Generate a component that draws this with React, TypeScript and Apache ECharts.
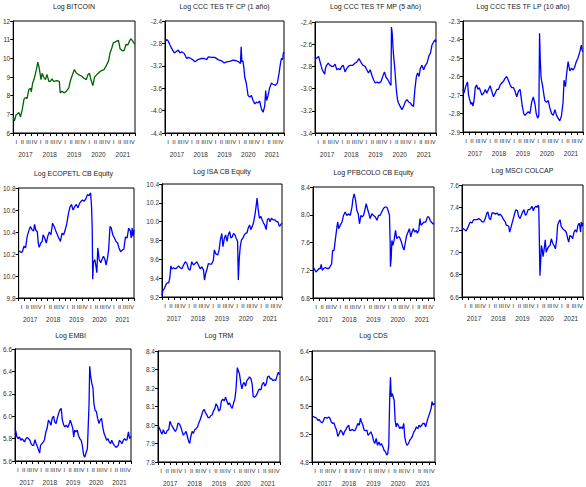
import React, { useEffect, useRef } from "react";
import * as echarts from "echarts";

const quarterLabels = ["I", "II", "III", "IV"];
const years = [2017, 2018, 2019, 2020, 2021];

const btc = [[2017.00,6.85],[2017.05,6.65],[2017.11,6.95],[2017.19,7.05],[2017.23,7.10],[2017.30,6.86],[2017.37,7.25],[2017.44,7.80],[2017.50,7.90],[2017.57,7.85],[2017.64,8.33],[2017.71,8.40],[2017.74,8.20],[2017.80,8.68],[2017.87,8.95],[2017.95,9.40],[2018.01,9.80],[2018.05,9.58],[2018.09,9.30],[2018.14,8.86],[2018.19,9.20],[2018.25,9.00],[2018.32,8.86],[2018.39,9.13],[2018.46,8.77],[2018.53,8.77],[2018.59,8.90],[2018.66,8.77],[2018.80,8.80],[2018.89,8.77],[2018.93,8.15],[2019.00,8.24],[2019.10,8.15],[2019.18,8.24],[2019.28,8.40],[2019.34,8.77],[2019.41,9.04],[2019.51,9.40],[2019.59,9.22],[2019.68,9.13],[2019.82,9.04],[2019.89,8.95],[2020.00,8.86],[2020.07,9.13],[2020.13,9.20],[2020.19,8.86],[2020.27,8.54],[2020.34,9.00],[2020.43,9.13],[2020.57,9.30],[2020.64,9.35],[2020.73,9.40],[2020.81,9.58],[2020.91,9.85],[2020.98,10.30],[2021.05,10.57],[2021.11,10.83],[2021.18,10.87],[2021.25,10.92],[2021.32,10.96],[2021.39,10.50],[2021.50,10.40],[2021.56,10.44],[2021.63,10.75],[2021.70,10.70],[2021.77,10.92],[2021.84,11.05],[2021.90,10.93],[2021.99,10.75]];

const tesCp = [[2017.00,-2.78],[2017.07,-2.73],[2017.14,-2.76],[2017.21,-2.83],[2017.28,-2.89],[2017.39,-2.97],[2017.49,-2.94],[2017.56,-2.92],[2017.63,-2.97],[2017.70,-2.95],[2017.81,-2.98],[2017.91,-3.07],[2017.98,-3.05],[2018.09,-3.07],[2018.19,-3.10],[2018.26,-3.13],[2018.37,-3.09],[2018.51,-3.07],[2018.65,-3.07],[2018.75,-3.09],[2018.82,-3.04],[2018.96,-3.05],[2019.09,-3.05],[2019.23,-3.09],[2019.37,-3.11],[2019.49,-3.15],[2019.58,-3.13],[2019.72,-3.12],[2019.86,-3.10],[2020.00,-3.11],[2020.10,-3.13],[2020.17,-3.16],[2020.20,-2.86],[2020.23,-3.13],[2020.27,-3.11],[2020.31,-3.22],[2020.35,-3.40],[2020.42,-3.52],[2020.49,-3.73],[2020.56,-3.76],[2020.63,-3.73],[2020.70,-3.82],[2020.77,-3.88],[2020.84,-3.85],[2020.91,-3.86],[2020.98,-3.83],[2021.05,-3.97],[2021.12,-4.03],[2021.19,-3.92],[2021.23,-3.64],[2021.27,-3.82],[2021.33,-3.73],[2021.40,-3.59],[2021.47,-3.51],[2021.54,-3.53],[2021.64,-3.55],[2021.72,-3.51],[2021.79,-3.34],[2021.85,-3.16],[2021.89,-3.07],[2021.94,-3.09],[2021.97,-2.98],[2022.00,-2.95]];

const tesMp = [[2017.00,-2.74],[2017.04,-2.73],[2017.10,-2.72],[2017.15,-2.71],[2017.21,-2.76],[2017.26,-2.80],[2017.30,-2.83],[2017.35,-2.85],[2017.40,-2.87],[2017.43,-2.82],[2017.48,-2.79],[2017.55,-2.77],[2017.62,-2.79],[2017.69,-2.80],[2017.76,-2.80],[2017.83,-2.78],[2017.90,-2.83],[2017.97,-2.82],[2018.04,-2.83],[2018.10,-2.80],[2018.17,-2.79],[2018.24,-2.85],[2018.31,-2.82],[2018.38,-2.80],[2018.45,-2.79],[2018.56,-2.79],[2018.66,-2.77],[2018.73,-2.76],[2018.82,-2.73],[2018.89,-2.76],[2018.98,-2.79],[2019.07,-2.80],[2019.14,-2.83],[2019.21,-2.86],[2019.28,-2.83],[2019.35,-2.88],[2019.42,-2.92],[2019.49,-2.95],[2019.56,-2.94],[2019.62,-2.95],[2019.72,-2.94],[2019.80,-2.89],[2019.87,-2.85],[2019.94,-2.90],[2020.01,-2.92],[2020.08,-2.95],[2020.14,-2.97],[2020.16,-2.445],[2020.19,-2.50],[2020.22,-2.62],[2020.25,-2.71],[2020.29,-2.80],[2020.33,-2.92],[2020.37,-3.03],[2020.41,-3.10],[2020.45,-3.13],[2020.52,-3.16],[2020.59,-3.19],[2020.66,-3.16],[2020.73,-3.12],[2020.80,-3.10],[2020.87,-3.12],[2020.94,-3.13],[2021.01,-3.15],[2021.07,-3.16],[2021.13,-3.00],[2021.19,-2.89],[2021.24,-2.86],[2021.30,-2.89],[2021.35,-2.82],[2021.42,-2.79],[2021.49,-2.83],[2021.56,-2.79],[2021.63,-2.77],[2021.70,-2.71],[2021.77,-2.68],[2021.83,-2.61],[2021.90,-2.58],[2021.97,-2.56],[2022.00,-2.58]];

const tesLp = [[2017.00,-2.67],[2017.04,-2.69],[2017.10,-2.66],[2017.15,-2.64],[2017.19,-2.63],[2017.23,-2.70],[2017.29,-2.73],[2017.33,-2.75],[2017.37,-2.74],[2017.41,-2.76],[2017.46,-2.73],[2017.51,-2.66],[2017.57,-2.645],[2017.62,-2.67],[2017.68,-2.66],[2017.73,-2.68],[2017.79,-2.70],[2017.86,-2.69],[2017.93,-2.67],[2017.99,-2.69],[2018.06,-2.67],[2018.13,-2.65],[2018.20,-2.68],[2018.27,-2.71],[2018.34,-2.69],[2018.41,-2.67],[2018.48,-2.67],[2018.55,-2.645],[2018.62,-2.635],[2018.69,-2.625],[2018.75,-2.61],[2018.82,-2.60],[2018.89,-2.62],[2018.96,-2.645],[2019.03,-2.66],[2019.10,-2.66],[2019.17,-2.68],[2019.24,-2.71],[2019.31,-2.68],[2019.38,-2.67],[2019.42,-2.71],[2019.47,-2.76],[2019.53,-2.80],[2019.58,-2.81],[2019.65,-2.80],[2019.72,-2.79],[2019.79,-2.80],[2019.86,-2.74],[2019.93,-2.71],[2020.00,-2.75],[2020.05,-2.80],[2020.11,-2.825],[2020.16,-2.81],[2020.19,-2.366],[2020.22,-2.51],[2020.25,-2.60],[2020.27,-2.62],[2020.31,-2.645],[2020.36,-2.69],[2020.41,-2.73],[2020.48,-2.74],[2020.55,-2.73],[2020.62,-2.77],[2020.69,-2.80],[2020.76,-2.81],[2020.83,-2.78],[2020.90,-2.81],[2020.96,-2.825],[2021.03,-2.84],[2021.10,-2.815],[2021.17,-2.74],[2021.21,-2.62],[2021.27,-2.655],[2021.32,-2.58],[2021.38,-2.52],[2021.45,-2.57],[2021.52,-2.555],[2021.59,-2.565],[2021.65,-2.55],[2021.72,-2.52],[2021.79,-2.50],[2021.86,-2.47],[2021.93,-2.43],[2021.97,-2.46],[2022.00,-2.465]];

const ecopetrol = [[2017.03,10.23],[2017.10,10.215],[2017.16,10.22],[2017.23,10.27],[2017.30,10.255],[2017.37,10.36],[2017.44,10.41],[2017.51,10.45],[2017.58,10.42],[2017.65,10.41],[2017.69,10.47],[2017.74,10.42],[2017.81,10.40],[2017.85,10.30],[2017.89,10.26],[2017.96,10.30],[2018.02,10.315],[2018.06,10.375],[2018.13,10.345],[2018.20,10.30],[2018.26,10.36],[2018.33,10.40],[2018.40,10.375],[2018.47,10.48],[2018.54,10.45],[2018.61,10.41],[2018.68,10.375],[2018.74,10.345],[2018.81,10.315],[2018.88,10.39],[2018.95,10.375],[2019.02,10.42],[2019.09,10.48],[2019.16,10.57],[2019.23,10.63],[2019.29,10.65],[2019.36,10.60],[2019.43,10.63],[2019.50,10.65],[2019.57,10.62],[2019.64,10.66],[2019.71,10.68],[2019.77,10.69],[2019.84,10.68],[2019.91,10.70],[2019.98,10.74],[2020.05,10.73],[2020.12,10.755],[2020.16,10.63],[2020.19,10.42],[2020.21,9.97],[2020.24,10.12],[2020.30,10.15],[2020.35,10.09],[2020.39,10.03],[2020.43,10.255],[2020.49,10.15],[2020.56,10.12],[2020.63,10.16],[2020.68,10.18],[2020.74,10.15],[2020.79,10.10],[2020.85,10.16],[2020.90,10.24],[2020.96,10.45],[2021.01,10.44],[2021.08,10.375],[2021.15,10.345],[2021.22,10.315],[2021.29,10.30],[2021.35,10.255],[2021.42,10.22],[2021.49,10.235],[2021.56,10.245],[2021.63,10.355],[2021.70,10.345],[2021.77,10.435],[2021.84,10.41],[2021.88,10.345],[2021.92,10.435],[2021.96,10.36],[2022.00,10.42]];

const isa = [[2017.00,9.22],[2017.04,9.27],[2017.10,9.29],[2017.17,9.335],[2017.22,9.35],[2017.28,9.35],[2017.33,9.41],[2017.37,9.53],[2017.41,9.50],[2017.48,9.51],[2017.55,9.50],[2017.62,9.51],[2017.69,9.53],[2017.76,9.51],[2017.83,9.50],[2017.90,9.54],[2017.97,9.575],[2018.04,9.555],[2018.10,9.50],[2018.17,9.485],[2018.24,9.575],[2018.31,9.54],[2018.38,9.555],[2018.45,9.575],[2018.52,9.54],[2018.59,9.50],[2018.66,9.52],[2018.73,9.485],[2018.77,9.38],[2018.82,9.45],[2018.88,9.50],[2018.93,9.555],[2019.00,9.55],[2019.07,9.55],[2019.14,9.59],[2019.18,9.70],[2019.24,9.66],[2019.32,9.645],[2019.38,9.70],[2019.43,9.805],[2019.49,9.875],[2019.54,9.735],[2019.60,9.825],[2019.65,9.86],[2019.71,9.79],[2019.76,9.86],[2019.82,9.895],[2019.87,9.825],[2019.93,9.84],[2019.98,9.875],[2020.04,9.86],[2020.09,9.825],[2020.15,9.79],[2020.18,9.38],[2020.22,9.61],[2020.26,9.735],[2020.31,9.805],[2020.37,9.825],[2020.43,9.86],[2020.48,9.875],[2020.54,9.88],[2020.59,9.93],[2020.65,9.965],[2020.70,9.915],[2020.76,9.95],[2020.81,9.985],[2020.87,10.07],[2020.92,10.16],[2020.96,10.25],[2021.01,10.125],[2021.06,10.035],[2021.12,10.055],[2021.17,10.02],[2021.23,9.985],[2021.28,9.965],[2021.34,9.915],[2021.39,10.02],[2021.45,10.035],[2021.50,10.00],[2021.56,10.035],[2021.63,10.02],[2021.70,10.02],[2021.77,10.00],[2021.83,10.00],[2021.89,9.95],[2021.94,9.965],[2022.00,9.985]];

const pfbcolo = [[2017.00,7.24],[2017.05,7.225],[2017.12,7.175],[2017.19,7.20],[2017.25,7.225],[2017.30,7.225],[2017.34,7.285],[2017.38,7.20],[2017.44,7.225],[2017.51,7.24],[2017.58,7.225],[2017.65,7.225],[2017.71,7.255],[2017.77,7.29],[2017.81,7.485],[2017.87,7.485],[2017.92,7.63],[2017.98,7.80],[2018.02,7.895],[2018.06,7.80],[2018.13,7.85],[2018.20,7.895],[2018.26,7.99],[2018.33,8.04],[2018.40,7.99],[2018.47,8.015],[2018.54,7.99],[2018.61,8.11],[2018.65,8.23],[2018.70,8.30],[2018.76,8.21],[2018.81,8.065],[2018.87,8.015],[2018.92,7.87],[2018.98,7.99],[2019.03,7.97],[2019.09,7.99],[2019.14,8.065],[2019.20,8.16],[2019.25,8.09],[2019.31,8.015],[2019.36,7.945],[2019.43,8.015],[2019.50,7.99],[2019.57,7.97],[2019.64,7.92],[2019.71,7.99],[2019.77,7.99],[2019.84,8.04],[2019.91,8.09],[2019.98,8.11],[2020.05,8.11],[2020.10,8.065],[2020.16,7.99],[2020.19,7.58],[2020.20,7.25],[2020.23,7.37],[2020.26,7.63],[2020.30,7.56],[2020.35,7.63],[2020.41,7.775],[2020.46,7.655],[2020.52,7.68],[2020.57,7.68],[2020.65,7.61],[2020.71,7.535],[2020.76,7.49],[2020.82,7.61],[2020.87,7.70],[2020.93,7.75],[2020.98,7.80],[2021.04,7.68],[2021.09,7.75],[2021.15,7.80],[2021.20,7.75],[2021.26,7.775],[2021.31,7.735],[2021.37,7.775],[2021.42,7.945],[2021.46,7.85],[2021.52,7.87],[2021.59,7.895],[2021.66,7.895],[2021.73,7.97],[2021.78,7.97],[2021.84,7.92],[2021.89,7.895],[2021.95,7.87],[2022.00,7.87]];

const colcap = [[2017.00,7.21],[2017.06,7.21],[2017.11,7.20],[2017.17,7.19],[2017.22,7.21],[2017.28,7.24],[2017.34,7.27],[2017.41,7.26],[2017.48,7.29],[2017.55,7.29],[2017.62,7.29],[2017.69,7.30],[2017.76,7.29],[2017.83,7.27],[2017.90,7.27],[2017.96,7.30],[2018.03,7.35],[2018.07,7.36],[2018.13,7.30],[2018.18,7.29],[2018.24,7.35],[2018.31,7.35],[2018.38,7.34],[2018.45,7.35],[2018.52,7.33],[2018.58,7.34],[2018.65,7.32],[2018.72,7.29],[2018.79,7.27],[2018.83,7.24],[2018.87,7.24],[2018.93,7.23],[2018.97,7.18],[2019.01,7.21],[2019.07,7.26],[2019.12,7.30],[2019.18,7.35],[2019.23,7.38],[2019.29,7.37],[2019.34,7.32],[2019.40,7.30],[2019.45,7.33],[2019.51,7.36],[2019.56,7.38],[2019.62,7.33],[2019.67,7.34],[2019.73,7.38],[2019.78,7.38],[2019.84,7.39],[2019.89,7.41],[2019.95,7.37],[2020.00,7.40],[2020.06,7.41],[2020.11,7.40],[2020.14,7.42],[2020.17,7.41],[2020.19,7.20],[2020.22,6.79],[2020.25,6.91],[2020.28,7.06],[2020.31,7.03],[2020.35,6.96],[2020.39,7.02],[2020.44,7.11],[2020.48,7.00],[2020.53,7.03],[2020.58,7.05],[2020.64,7.06],[2020.69,7.12],[2020.75,7.08],[2020.80,7.06],[2020.86,7.03],[2020.91,7.11],[2020.95,7.24],[2021.00,7.27],[2021.05,7.29],[2021.10,7.23],[2021.16,7.21],[2021.21,7.20],[2021.27,7.19],[2021.32,7.17],[2021.37,7.12],[2021.41,7.09],[2021.46,7.15],[2021.52,7.14],[2021.57,7.12],[2021.63,7.18],[2021.68,7.20],[2021.74,7.18],[2021.79,7.24],[2021.85,7.26],[2021.90,7.18],[2021.93,7.27],[2021.97,7.23],[2022.00,7.26]];

const embi = [[2017.00,5.89],[2017.04,5.86],[2017.08,5.815],[2017.14,5.80],[2017.19,5.815],[2017.25,5.785],[2017.30,5.80],[2017.36,5.785],[2017.41,5.77],[2017.47,5.80],[2017.52,5.81],[2017.58,5.80],[2017.64,5.785],[2017.69,5.755],[2017.75,5.74],[2017.80,5.74],[2017.86,5.79],[2017.91,5.755],[2017.97,5.725],[2018.02,5.695],[2018.06,5.67],[2018.10,5.74],[2018.16,5.755],[2018.22,5.77],[2018.27,5.79],[2018.33,5.86],[2018.38,5.89],[2018.44,5.965],[2018.49,5.95],[2018.55,5.92],[2018.60,5.98],[2018.66,6.00],[2018.71,5.95],[2018.77,5.935],[2018.82,5.98],[2018.88,6.025],[2018.93,6.055],[2018.99,6.07],[2019.04,5.965],[2019.10,5.92],[2019.15,5.905],[2019.21,5.92],[2019.27,5.90],[2019.32,5.92],[2019.38,5.965],[2019.43,5.935],[2019.49,5.89],[2019.53,5.815],[2019.57,5.875],[2019.62,5.86],[2019.68,5.875],[2019.73,5.83],[2019.79,5.80],[2019.85,5.785],[2019.90,5.74],[2019.96,5.65],[2020.01,5.635],[2020.07,5.68],[2020.12,5.71],[2020.16,5.935],[2020.19,6.10],[2020.22,6.445],[2020.26,6.355],[2020.31,6.295],[2020.36,6.25],[2020.40,6.115],[2020.45,6.055],[2020.51,6.04],[2020.56,5.98],[2020.62,5.935],[2020.67,5.965],[2020.73,5.98],[2020.78,5.905],[2020.84,5.845],[2020.90,5.815],[2020.95,5.785],[2021.01,5.80],[2021.06,5.77],[2021.12,5.755],[2021.17,5.785],[2021.23,5.755],[2021.28,5.74],[2021.34,5.725],[2021.39,5.725],[2021.45,5.74],[2021.50,5.785],[2021.56,5.77],[2021.61,5.755],[2021.67,5.785],[2021.72,5.80],[2021.78,5.785],[2021.83,5.79],[2021.89,5.86],[2021.94,5.80],[2022.00,5.82]];

const trm = [[2017.03,7.99],[2017.07,7.98],[2017.11,7.965],[2017.16,7.95],[2017.22,7.975],[2017.27,7.955],[2017.33,7.955],[2017.38,7.97],[2017.44,7.975],[2017.49,8.02],[2017.55,8.00],[2017.60,7.99],[2017.66,7.975],[2017.71,7.965],[2017.77,7.98],[2017.82,8.01],[2017.88,8.005],[2017.93,7.99],[2017.99,7.965],[2018.04,7.945],[2018.10,7.955],[2018.15,7.965],[2018.21,7.935],[2018.26,7.91],[2018.30,7.90],[2018.34,7.935],[2018.40,7.965],[2018.45,7.955],[2018.51,7.975],[2018.56,7.98],[2018.62,7.99],[2018.67,8.01],[2018.73,8.03],[2018.78,8.05],[2018.84,8.075],[2018.89,8.085],[2018.95,8.065],[2019.00,8.055],[2019.05,8.04],[2019.11,8.04],[2019.16,8.05],[2019.22,8.055],[2019.27,8.075],[2019.33,8.09],[2019.38,8.115],[2019.44,8.10],[2019.49,8.075],[2019.55,8.085],[2019.60,8.13],[2019.66,8.14],[2019.71,8.13],[2019.77,8.15],[2019.82,8.13],[2019.88,8.11],[2019.93,8.12],[2019.99,8.10],[2020.04,8.09],[2020.10,8.12],[2020.15,8.14],[2020.19,8.185],[2020.22,8.24],[2020.25,8.31],[2020.29,8.295],[2020.34,8.275],[2020.40,8.22],[2020.44,8.195],[2020.48,8.22],[2020.53,8.23],[2020.59,8.21],[2020.64,8.24],[2020.70,8.25],[2020.75,8.26],[2020.81,8.25],[2020.86,8.22],[2020.90,8.155],[2020.95,8.15],[2021.00,8.155],[2021.05,8.165],[2021.11,8.185],[2021.16,8.195],[2021.22,8.19],[2021.27,8.22],[2021.33,8.23],[2021.38,8.21],[2021.44,8.225],[2021.49,8.26],[2021.55,8.265],[2021.60,8.25],[2021.66,8.25],[2021.71,8.24],[2021.77,8.245],[2021.82,8.24],[2021.88,8.265],[2021.93,8.285],[2021.97,8.275],[2022.00,8.275]];

const cds = [[2017.03,5.46],[2017.08,5.45],[2017.14,5.44],[2017.19,5.43],[2017.24,5.40],[2017.30,5.41],[2017.35,5.38],[2017.41,5.365],[2017.46,5.39],[2017.51,5.44],[2017.57,5.44],[2017.62,5.43],[2017.68,5.45],[2017.73,5.43],[2017.78,5.38],[2017.84,5.355],[2017.89,5.365],[2017.95,5.30],[2018.00,5.26],[2018.05,5.17],[2018.11,5.21],[2018.16,5.26],[2018.22,5.235],[2018.27,5.185],[2018.32,5.235],[2018.38,5.27],[2018.43,5.305],[2018.49,5.33],[2018.54,5.25],[2018.59,5.26],[2018.65,5.27],[2018.70,5.25],[2018.76,5.26],[2018.81,5.305],[2018.86,5.355],[2018.92,5.33],[2018.97,5.43],[2019.01,5.38],[2019.07,5.33],[2019.12,5.26],[2019.18,5.25],[2019.23,5.26],[2019.28,5.185],[2019.34,5.21],[2019.39,5.235],[2019.45,5.185],[2019.50,5.11],[2019.55,5.065],[2019.61,5.14],[2019.66,5.04],[2019.72,5.09],[2019.77,5.04],[2019.82,5.065],[2019.88,5.02],[2019.93,4.97],[2019.99,4.945],[2020.04,4.90],[2020.08,4.92],[2020.12,5.04],[2020.16,5.74],[2020.19,6.02],[2020.22,5.74],[2020.26,5.79],[2020.30,5.74],[2020.34,5.69],[2020.38,5.40],[2020.42,5.305],[2020.46,5.355],[2020.51,5.33],[2020.57,5.28],[2020.62,5.305],[2020.68,5.28],[2020.73,5.355],[2020.77,5.16],[2020.81,5.09],[2020.86,5.04],[2020.92,5.065],[2020.97,5.11],[2021.03,5.14],[2021.08,5.17],[2021.14,5.235],[2021.19,5.26],[2021.24,5.305],[2021.30,5.28],[2021.35,5.33],[2021.41,5.305],[2021.46,5.33],[2021.51,5.355],[2021.57,5.355],[2021.62,5.305],[2021.68,5.39],[2021.73,5.45],[2021.78,5.50],[2021.84,5.57],[2021.88,5.67],[2021.92,5.62],[2021.96,5.64],[2022.00,5.63]];

const FONT = "'Liberation Sans', Arial, sans-serif";
const BLUE = "#0000ff";

const panels = [
  { title: "Log BITCOIN", data: btc, color: "#006400", min: 6, max: 12, interval: 1, dec: 0, box: [13, 21, 122, 112], titleY: 6 },
  { title: "Log CCC TES TF CP (1 año)", data: tesCp, color: BLUE, min: -4.4, max: -2.4, interval: 0.4, dec: 1, box: [165, 21, 119, 112], titleY: 6 },
  { title: "Log CCC TES TF MP (5 año)", data: tesMp, color: BLUE, min: -3.4, max: -2.4, interval: 0.2, dec: 1, box: [315, 22, 121, 111], titleY: 6 },
  { title: "Log CCC TES TF LP (10 año)", data: tesLp, color: BLUE, min: -2.9, max: -2.3, interval: 0.1, dec: 1, box: [463, 21, 120, 111], titleY: 6 },
  { title: "Log ECOPETL CB Equity", data: ecopetrol, color: BLUE, min: 9.8, max: 10.8, interval: 0.2, dec: 1, box: [13, 188, 121, 110], titleY: 173 },
  { title: "Log ISA CB Equity", data: isa, color: BLUE, min: 9.2, max: 10.4, interval: 0.2, dec: 1, box: [162, 184, 120, 113], titleY: 171 },
  { title: "Log PFBCOLO CB Equity", data: pfbcolo, color: BLUE, min: 6.8, max: 8.4, interval: 0.4, dec: 1, box: [313, 187, 121, 111], titleY: 172 },
  { title: "Log MSCI COLCAP", data: colcap, color: BLUE, min: 6.6, max: 7.6, interval: 0.2, dec: 1, box: [462, 185, 121, 112], titleY: 170 },
  { title: "Log EMBI", data: embi, color: BLUE, min: 5.6, max: 6.6, interval: 0.2, dec: 1, box: [10, 349, 121, 112], titleY: 335 },
  { title: "Log TRM", data: trm, color: BLUE, min: 7.8, max: 8.4, interval: 0.1, dec: 1, box: [158, 351, 122, 111], titleY: 335 },
  { title: "Log CDS", data: cds, color: BLUE, min: 4.8, max: 6.4, interval: 0.4, dec: 1, box: [312, 351, 123, 111], titleY: 335 },
];

const quarterBounds: number[] = [];
const quarterMids: number[] = [];
years.forEach((y) => {
  for (let q = 0; q < 4; q++) {
    quarterBounds.push(y + q / 4);
    quarterMids.push(y + q / 4 + 0.125);
  }
});
quarterBounds.push(years[years.length - 1] + 1);
const yearMids = years.map((y) => y + 0.5);

function buildOption() {
  const grid: any[] = [];
  const xAxis: any[] = [];
  const yAxis: any[] = [];
  const series: any[] = [];
  const graphic: any[] = [];
  panels.forEach((p, i) => {
    const [l, t, w, h] = p.box;
    grid.push({ left: l, top: t, width: w, height: h, show: true, borderColor: "#000", borderWidth: 1, backgroundColor: "transparent" });
    xAxis.push({
      type: "value", gridIndex: i, position: "bottom", min: years[0], max: years[years.length - 1] + 1,
      splitLine: { show: false },
      axisLine: { show: true, onZero: false, lineStyle: { color: "#000", width: 1 } },
      axisTick: { show: true, length: 3, customValues: quarterBounds, lineStyle: { color: "#000" } },
      axisLabel: {
        customValues: quarterMids, margin: 6, fontSize: 6, color: "#333", fontFamily: FONT,
        formatter: (v: number) => quarterLabels[((Math.round((v - years[0]) * 4 - 0.5) % 4) + 4) % 4],
      },
    });
    xAxis.push({
      type: "value", gridIndex: i, position: "bottom", min: years[0], max: years[years.length - 1] + 1,
      splitLine: { show: false }, axisLine: { show: false, onZero: false }, axisTick: { show: false },
      axisLabel: { customValues: yearMids, margin: 18, fontSize: 6.5, color: "#333", fontFamily: FONT, formatter: (v: number) => String(Math.floor(v)) },
    });
    yAxis.push({
      type: "value", gridIndex: i, position: "left", min: p.min, max: p.max, interval: p.interval,
      splitLine: { show: false },
      axisLine: { show: true, onZero: false, lineStyle: { color: "#000", width: 1 } },
      axisTick: { show: true, length: 3, lineStyle: { color: "#000" } },
      axisLabel: { fontSize: 6.5, margin: 3, color: "#333", fontFamily: FONT, formatter: (v: number) => v.toFixed(p.dec) },
    });
    series.push({
      type: "line", xAxisIndex: 2 * i, yAxisIndex: i, data: p.data, showSymbol: false,
      lineStyle: { color: p.color, width: 1.3 }, itemStyle: { color: p.color }, clip: true,
    });
    graphic.push({
      type: "text", x: l + w / 2, y: p.titleY,
      style: { text: p.title, fontSize: 7, fontFamily: FONT, fill: "#222", align: "center", verticalAlign: "middle", textAlign: "center", textVerticalAlign: "middle" },
    });
  });
  return { animation: false, backgroundColor: "#fff", grid, xAxis, yAxis, series, graphic };
}

export default function App() {
  const ref = useRef<HTMLDivElement>(null);
  useEffect(() => {
    if (!ref.current) return;
    const chart = echarts.init(ref.current, null, { renderer: "svg" });
    chart.setOption(buildOption() as any);
    return () => chart.dispose();
  }, []);
  return <div ref={ref} style={{ position: "fixed", left: 0, top: 0, width: 586, height: 487, background: "#fff" }} />;
}
